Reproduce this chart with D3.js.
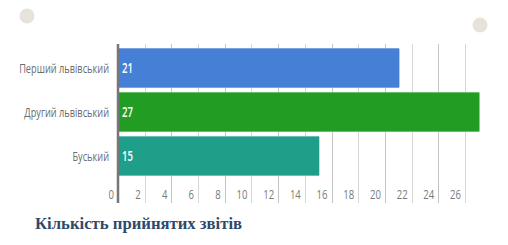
<!DOCTYPE html>
<html>
<head>
<meta charset="utf-8">
<script src="https://cdn.jsdelivr.net/npm/d3@7"></script>
<style>
  body { margin: 0; background: #fff; }
  svg { display: block; }
</style>
</head>
<body>
<div id="chart"></div>
<script>
var categories = ["Перший львівський", "Другий львівський", "Буський"];
var values = [21, 27, 15];
var colors = ["#4680d6", "#239c24", "#1f9e89"];
var edgeColors = ["#7ea6e3", "#6cbf6c", "#6cc0b2"];
var ticks = [0, 2, 4, 6, 8, 10, 12, 14, 16, 18, 20, 22, 24, 26];
var title = "Кількість прийнятих звітів";

var W = 508, H = 245;
var narrow = "'Open Sans', 'DejaVu Sans', sans-serif";
var squeeze = 0.71; // fake a condensed face
var svg = d3.select("#chart").append("svg").attr("width", W).attr("height", H);

// decorative dots
svg.append("circle").attr("cx", 27).attr("cy", 16).attr("r", 7.5).attr("fill", "#e6e3da");
svg.append("circle").attr("cx", 480).attr("cy", 25).attr("r", 7.5).attr("fill", "#e6e3da");

var x = d3.scaleLinear().domain([0, 26]).range([118, 465]);
var y = d3.scaleBand().domain(categories).range([46, 178]).paddingInner(0.09).paddingOuter(0.045);

var gridTop = 44, gridBottom = 203;

// grid
svg.selectAll(".grid").data(ticks.slice(1)).enter().append("line")
  .attr("x1", function(d) { return Math.round(x(d)) + 0.5; })
  .attr("x2", function(d) { return Math.round(x(d)) + 0.5; })
  .attr("y1", gridTop).attr("y2", gridBottom)
  .attr("stroke", function(d, i) { return i % 2 ? "#c4c4c4" : "#d6d6d6"; })
  .attr("stroke-width", 1);

// squeezed text helper
function sqText(sel, tx, ty) {
  return sel.append("text")
    .attr("transform", function(d, i) { return "translate(" + tx(d, i) + "," + ty(d, i) + ") scale(" + squeeze + ",1)"; })
    .attr("font-family", narrow);
}

// tick labels, right-aligned just left of each gridline
sqText(svg.selectAll(".tick").data(ticks).enter(),
    function(d) { return x(d) - 4; }, function() { return 199; })
  .attr("text-anchor", "end")
  .attr("font-size", 13.5)
  .attr("fill", "#7a7a7a")
  .text(function(d) { return d; });

// bars
var bar = svg.selectAll(".bar").data(values).enter().append("g");
bar.append("rect")
  .attr("x", x(0) + 1)
  .attr("y", function(d, i) { return y(categories[i]); })
  .attr("width", function(d) { return x(d) - x(0); })
  .attr("height", y.bandwidth())
  .attr("fill", function(d, i) { return edgeColors[i]; });
bar.append("rect")
  .attr("x", x(0) + 1)
  .attr("y", function(d, i) { return y(categories[i]) + 1; })
  .attr("width", function(d) { return x(d) - x(0); })
  .attr("height", y.bandwidth() - 2)
  .attr("fill", function(d, i) { return colors[i]; });

sqText(bar, function() { return x(0) + 4; },
    function(d, i) { return y(categories[i]) + y.bandwidth() / 2 + 4.5; })
  .attr("font-weight", 600)
  .attr("font-size", 13.5)
  .attr("fill", "#fff")
  .text(function(d) { return d; });

// category labels
sqText(svg.selectAll(".ylab").data(categories).enter(),
    function() { return 109; }, function(d) { return y(d) + y.bandwidth() / 2 + 4.5; })
  .attr("text-anchor", "end")
  .attr("font-size", 13)
  .attr("fill", "#6b6b6b")
  .text(function(d) { return d; });

// axis line
svg.append("line").attr("x1", 118).attr("x2", 118).attr("y1", gridTop).attr("y2", gridBottom)
  .attr("stroke", "#777").attr("stroke-width", 2.5);

svg.append("text")
  .attr("x", 35).attr("y", 229)
  .attr("font-family", "'Liberation Serif', 'DejaVu Serif', serif")
  .attr("font-weight", "bold")
  .attr("font-size", 16.7)
  .attr("fill", "#2d4a6a")
  .text(title);
</script>
</body>
</html>
